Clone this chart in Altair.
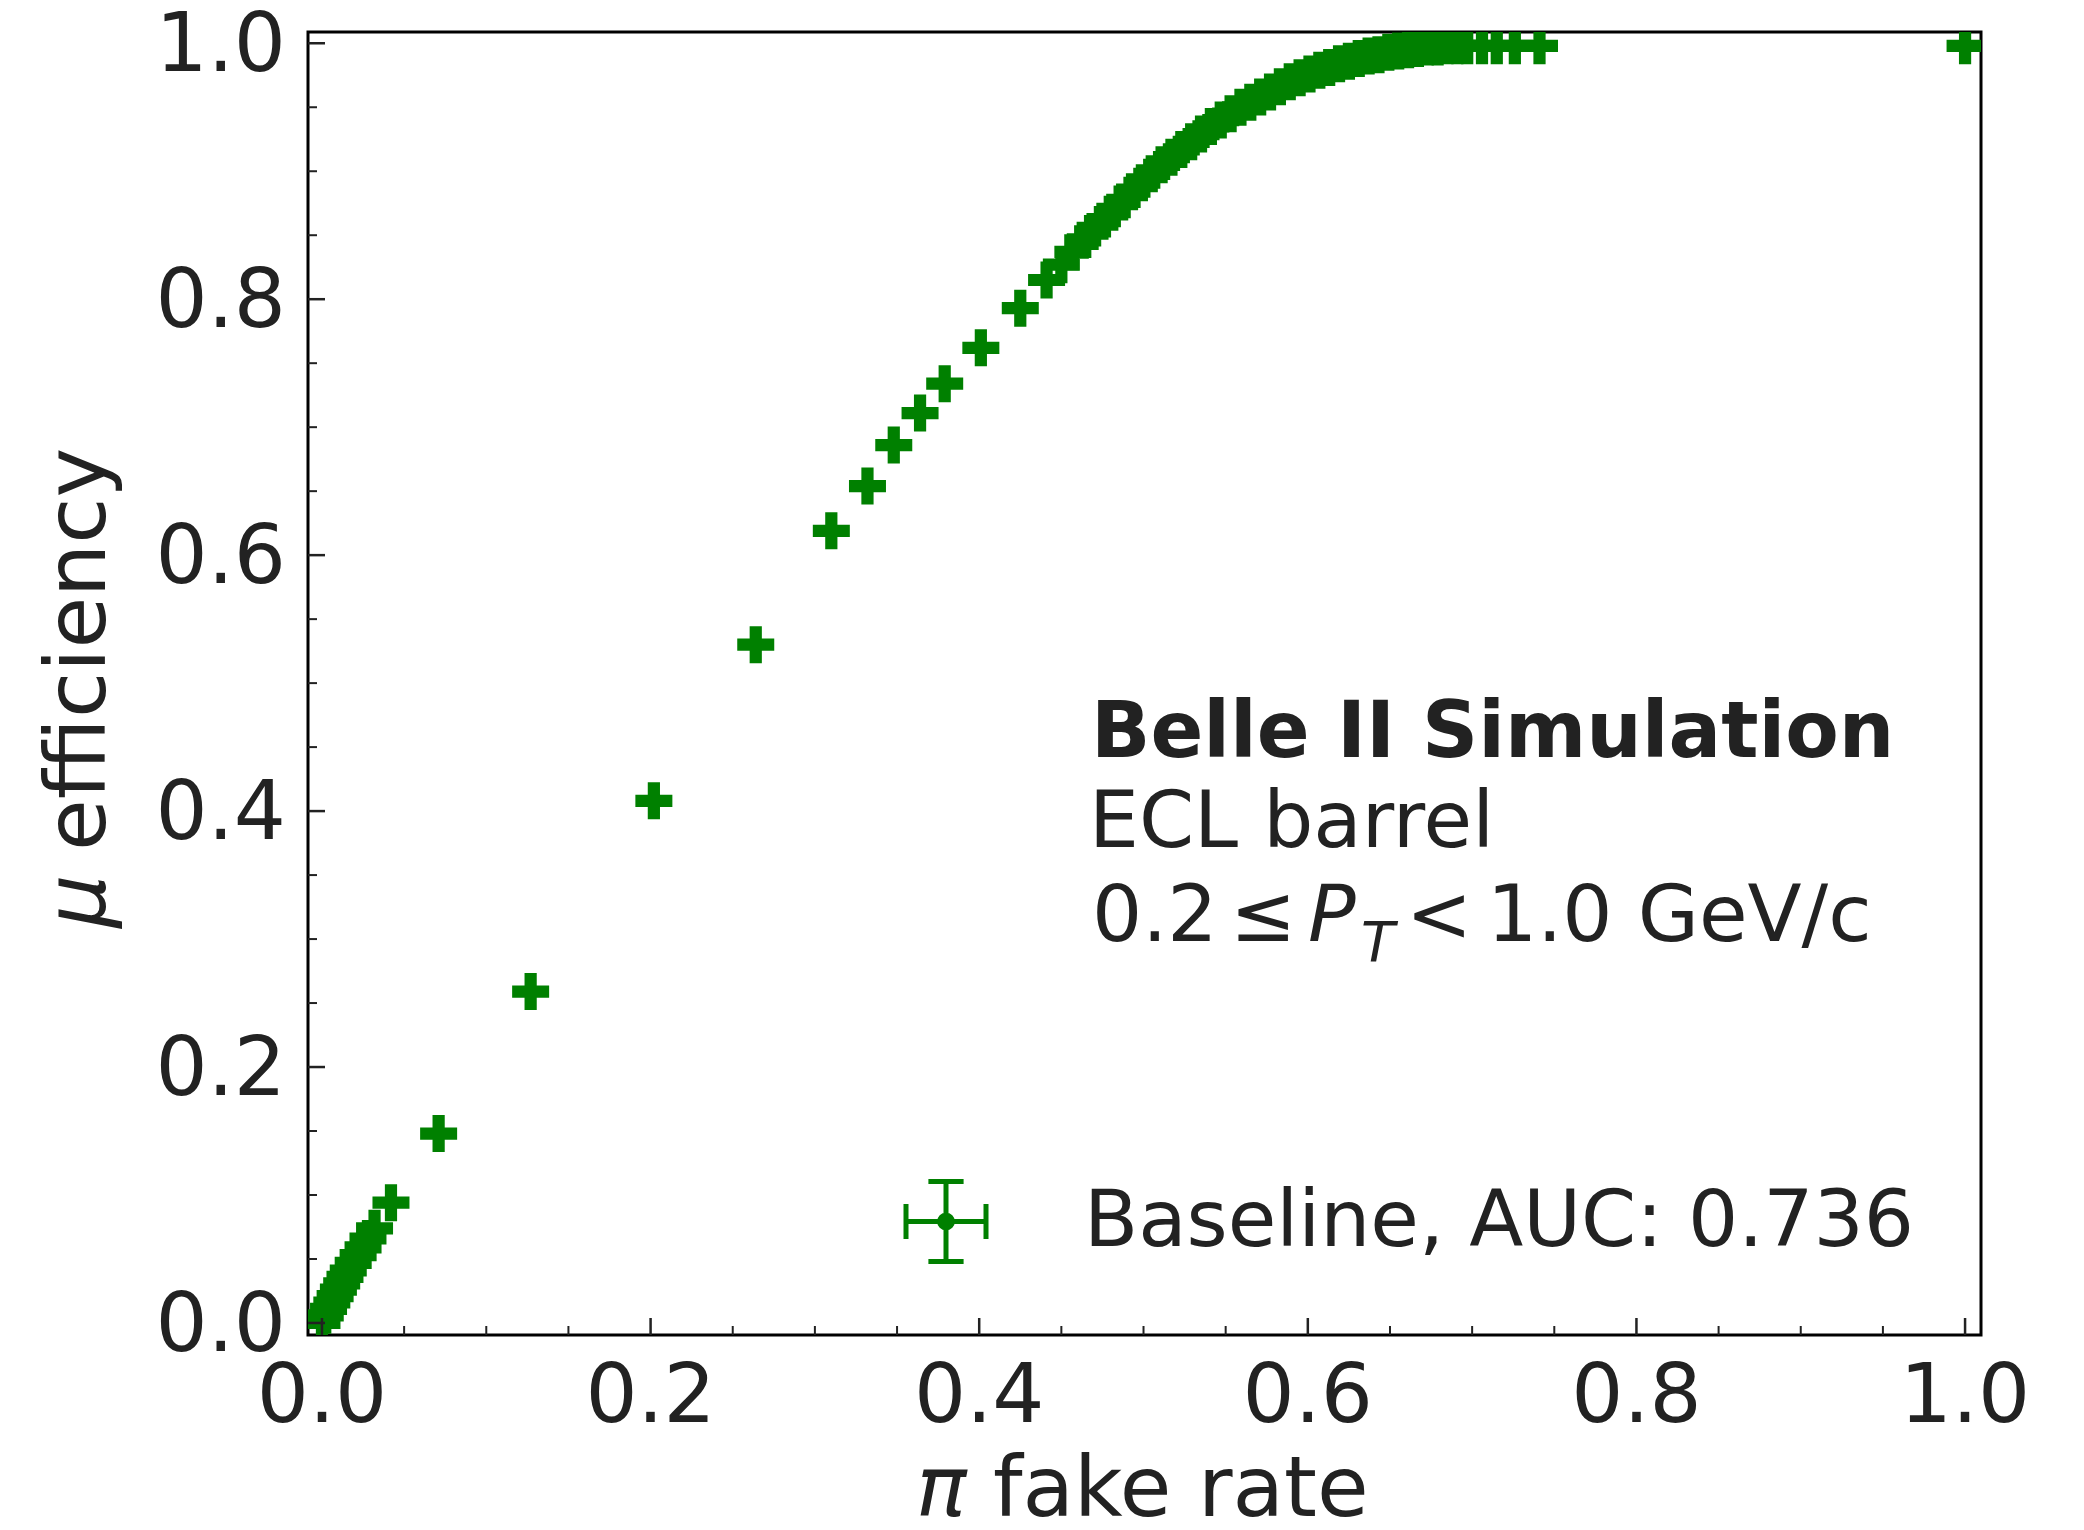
import altair as alt
import pandas as pd

# ---- data ----
fake_rate = [0.000, 0.002, 0.004, 0.006, 0.008, 0.010, 0.012, 0.014, 0.016, 0.019,
             0.022, 0.025, 0.028, 0.032, 0.042, 0.071, 0.127, 0.202, 0.264, 0.310,
             0.332, 0.348, 0.364, 0.379, 0.401, 0.425, 0.441,
             0.450, 0.457, 0.463, 0.469, 0.475, 0.481, 0.487, 0.493, 0.499, 0.505,
             0.511, 0.517, 0.523, 0.529, 0.535, 0.541, 0.547, 0.553, 0.559, 0.565,
             0.571, 0.577, 0.583, 0.589, 0.595, 0.601, 0.607, 0.613, 0.619, 0.625,
             0.631, 0.637, 0.643, 0.649, 0.655, 0.661, 0.667, 0.673, 0.679, 0.685,
             0.691, 0.697, 0.706, 0.715, 0.726, 0.741, 1.000]
mu_eff = [0.000, 0.006, 0.011, 0.016, 0.021, 0.026, 0.031, 0.036, 0.041, 0.047,
          0.053, 0.059, 0.066, 0.074, 0.094, 0.148, 0.259, 0.408, 0.530, 0.619,
          0.654, 0.686, 0.711, 0.734, 0.762, 0.793, 0.815,
          0.827, 0.837, 0.846, 0.853, 0.861, 0.868, 0.876, 0.884, 0.891, 0.898,
          0.905, 0.911, 0.917, 0.923, 0.929, 0.935, 0.940, 0.945, 0.950, 0.954,
          0.958, 0.962, 0.966, 0.970, 0.973, 0.976, 0.979, 0.981, 0.984, 0.986,
          0.988, 0.990, 0.991, 0.993, 0.994, 0.995, 0.996, 0.997, 0.997, 0.998,
          0.998, 0.998, 0.998, 0.998, 0.998, 0.998, 0.998]
assert len(fake_rate) == len(mu_eff)

series_label = "Baseline, AUC: 0.736"

major_ticks = [0.0, 0.2, 0.4, 0.6, 0.8, 1.0]
tick_labels = ["0.0", "0.2", "0.4", "0.6", "0.8", "1.0"]
minor_ticks = [0.05, 0.1, 0.15, 0.25, 0.3, 0.35, 0.45, 0.5, 0.55,
               0.65, 0.7, 0.75, 0.85, 0.9, 0.95]

x_domain = [-0.0085, 1.0097]
y_domain = [-0.0094, 1.0088]

# ---- layout / style ----
W, H = 1673, 1303
FONT = "DejaVu Sans"
TXT = "#222222"
GREEN = "#008000"
FS = 79
TICK_FS = 82
TITLE_FS = 84

CROSS = ("M-1,-0.33L-0.33,-0.33L-0.33,-1L0.33,-1L0.33,-0.33L1,-0.33L1,0.33"
         "L0.33,0.33L0.33,1L-0.33,1L-0.33,0.33L-1,0.33Z")
ERRBAR = ("M-1,0L1,0M-1,-0.44L-1,0.44M1,-0.44L1,0.44M0,-1L0,1"
          "M-0.44,-1L0.44,-1M-0.44,1L0.44,1"
          "M0.16,0A0.16,0.16,0,1,1,-0.16,0A0.16,0.16,0,1,1,0.16,0Z")

xs = alt.Scale(domain=x_domain, nice=False, zero=False)
ys = alt.Scale(domain=y_domain, nice=False, zero=False)

df = pd.DataFrame({"fake": fake_rate, "eff": mu_eff, "series": [series_label] * len(fake_rate)})

points = alt.Chart(df).mark_point(
    shape=CROSS, size=1369, filled=True, opacity=1, clip=True
).encode(
    x=alt.X("fake:Q", scale=xs, axis=None),
    y=alt.Y("eff:Q", scale=ys, axis=None),
    color=alt.Color("series:N",
                    scale=alt.Scale(domain=[series_label], range=[GREEN]),
                    legend=alt.Legend(title=None, orient="none", legendX=595.5, legendY=1147,
                                      symbolType=ERRBAR, symbolSize=6400,
                                      symbolStrokeWidth=5, symbolStrokeColor=GREEN,
                                      symbolFillColor=GREEN, symbolOpacity=1,
                                      labelFont=FONT, labelFontSize=FS, labelColor=TXT,
                                      labelLimit=2000, labelOffset=95.5, padding=0)),
)

tick_df = pd.DataFrame({"v": major_ticks, "lab": tick_labels})


def xticks(vals, length, width):
    return alt.Chart(pd.DataFrame({"v": vals})).mark_rule(color=TXT, strokeWidth=width).encode(
        x=alt.X("v:Q", scale=xs, axis=None), y=alt.value(H), y2=alt.value(H - length))


def yticks(vals, length, width):
    return alt.Chart(pd.DataFrame({"v": vals})).mark_rule(color=TXT, strokeWidth=width).encode(
        y=alt.Y("v:Q", scale=ys, axis=None), x=alt.value(0), x2=alt.value(length))


x_tick_labels = alt.Chart(tick_df).mark_text(
    font=FONT, fontSize=TICK_FS, color=TXT, align="center", baseline="top"
).encode(x=alt.X("v:Q", scale=xs, axis=None), y=alt.value(H + 22), text="lab:N")

y_tick_labels = alt.Chart(tick_df).mark_text(
    font=FONT, fontSize=TICK_FS, color=TXT, align="right", baseline="middle", dy=3
).encode(y=alt.Y("v:Q", scale=ys, axis=None), x=alt.value(-22), text="lab:N")


def label(text, x, y, size=FS, weight="normal", style="normal", angle=0):
    return alt.Chart(pd.DataFrame({"t": [text]})).mark_text(
        font=FONT, fontSize=size, fontWeight=weight, fontStyle=style,
        align="left", baseline="alphabetic", angle=angle, color=TXT
    ).encode(text="t:N", x=alt.value(x), y=alt.value(y))


texts = [
    label("Belle II Simulation", 783, 725, size=78, weight="bold"),
    label("ECL barrel", 781, 815),
    label("0.2", 784, 909),
    label("≤", 922, 909),
    label("P", 1000, 909, style="italic"),
    label("T", 1053, 929, size=55, style="italic"),
    label("<", 1098, 909),
    label("1.0 GeV/c", 1179, 909),
    # x-axis title
    label("π", 608, 1484, size=TITLE_FS, style="italic"),
    label("fake rate", 685, 1484, size=TITLE_FS),
    # y-axis title (rotated)
    label("μ", -203, 896, size=TITLE_FS, style="italic", angle=270),
    label("efficiency", -203, 819, size=TITLE_FS, angle=270),
]

chart = alt.layer(
    points,
    xticks(major_ticks, 17, 2.5), xticks(minor_ticks, 9, 2),
    yticks(major_ticks, 17, 2.5), yticks(minor_ticks, 9, 2),
    x_tick_labels, y_tick_labels,
    *texts,
).properties(
    width=W, height=H,
    autosize=alt.AutoSizeParams(type="none"),
    padding={"left": 300, "top": 24, "right": 80, "bottom": 187},
).configure_view(stroke="black", strokeWidth=3)

chart.save("out.html", embed_options={"renderer": "svg", "actions": False})
